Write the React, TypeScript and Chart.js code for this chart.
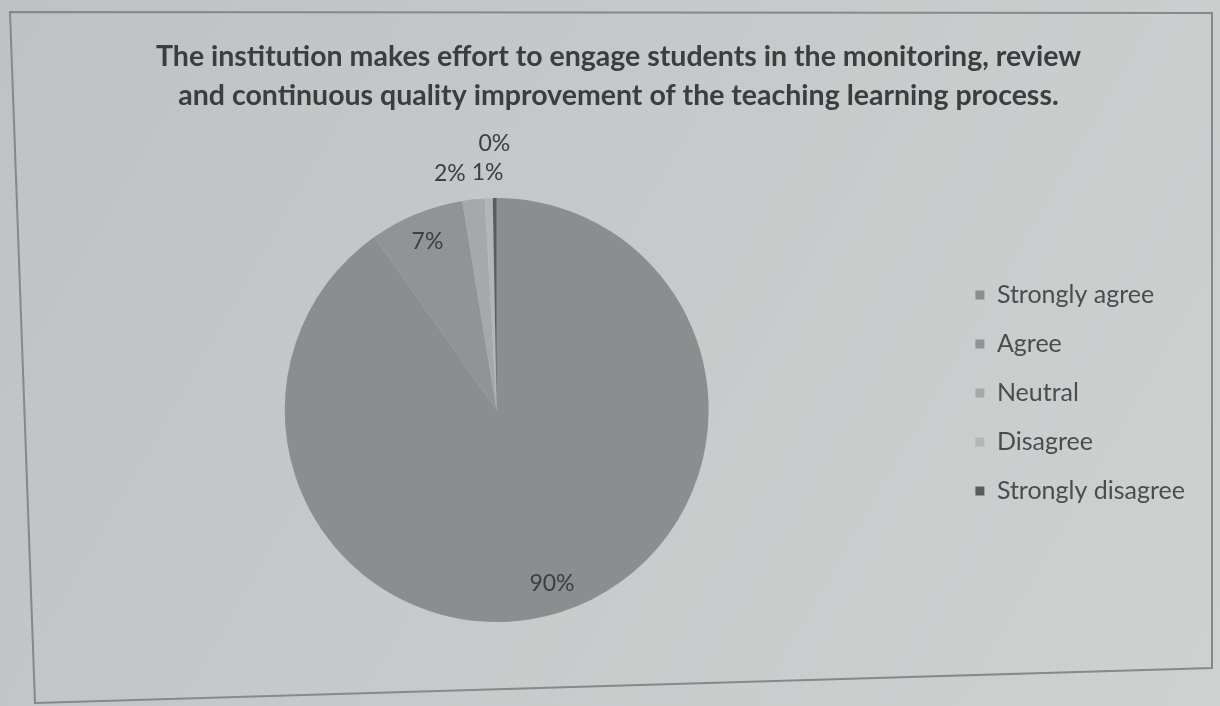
import React, { useEffect, useRef } from "react";
import { Chart, registerables } from "chart.js";

Chart.register(...registerables);

const titleLines = [
  "The institution makes effort to engage students in the monitoring, review",
  "and continuous quality improvement of the teaching learning process.",
];
const categories = ["Strongly agree", "Agree", "Neutral", "Disagree", "Strongly disagree"];
const shares = [90.2, 7.2, 1.7, 0.6, 0.3];
const sliceColors = ["#8b8e8f", "#919495", "#a6a9aa", "#b3b6b6", "#5a5d5e"];

const FONT = "Lato, 'Open Sans', sans-serif";

const backdropPlugin = {
  id: "backdrop",
  beforeDraw(chart: any) {
    const { ctx, width, height } = chart;
    ctx.save();
    const g = ctx.createLinearGradient(0, 0, width, height);
    g.addColorStop(0, "#bfc1c2");
    g.addColorStop(0.5, "#c7c9ca");
    g.addColorStop(1, "#cfd1d1");
    ctx.fillStyle = g;
    ctx.fillRect(0, 0, width, height);
    ctx.strokeStyle = "#868889";
    ctx.lineWidth = 2;
    ctx.beginPath();
    ctx.moveTo(10, 12);
    ctx.lineTo(1212, 13);
    ctx.lineTo(1212, 668);
    ctx.lineTo(35, 703);
    ctx.closePath();
    ctx.stroke();
    ctx.restore();
  },
};

const labelPlugin = {
  id: "sliceLabels",
  afterDatasetsDraw(chart: any) {
    const { ctx } = chart;
    const meta = chart.getDatasetMeta(0);
    const total = shares.reduce((a, b) => a + b, 0);
    const size = 23;
    ctx.save();
    ctx.font = `${size}px ${FONT}`;
    const boxes: any[] = [];
    meta.data.forEach((arc: any, i: number) => {
      const p = arc.getProps(["x", "y", "startAngle", "endAngle", "outerRadius"], true);
      const frac = shares[i] / total;
      const text = Math.round(frac * 100) + "%";
      const w = ctx.measureText(text).width;
      const h = size;
      const mid = (p.startAngle + p.endAngle) / 2;
      const ux = Math.cos(mid);
      const uy = Math.sin(mid);
      let cx: number;
      let cy: number;
      const inside = frac >= 0.05;
      if (inside) {
        const d = p.outerRadius * 0.86;
        cx = p.x + ux * d;
        cy = p.y + uy * d;
      } else {
        const d = p.outerRadius + 14;
        cx = p.x + ux * d + (ux * w) / 2;
        cy = p.y + uy * d + (uy * h) / 2;
        for (const b of boxes) {
          if (b.inside) continue;
          const needX = (w + b.w) / 2 + 6;
          const dx = Math.abs(cx - b.cx);
          if (dx < needX && Math.abs(cy - b.cy) < (h + b.h) / 2) {
            const over = needX - dx;
            if (!b.shifted && over < w * 0.75) {
              const s = cx >= b.cx ? 1 : -1;
              b.cx -= s * over;
              b.shifted = true;
            } else {
              cy = b.cy - (h + 6);
            }
          }
        }
      }
      boxes.push({ text, cx, cy, w, h, inside, shifted: false });
    });
    ctx.fillStyle = "#3c3e3f";
    ctx.textAlign = "center";
    ctx.textBaseline = "middle";
    for (const b of boxes) ctx.fillText(b.text, b.cx, b.cy);
    ctx.restore();
  },
};

export default function App() {
  const ref = useRef<HTMLCanvasElement | null>(null);
  useEffect(() => {
    if (!ref.current) return;
    const chart = new Chart(ref.current, {
      type: "pie",
      data: {
        labels: categories,
        datasets: [
          {
            data: shares,
            backgroundColor: sliceColors,
            borderWidth: 0,
          },
        ],
      },
      options: {
        responsive: false,
        animation: false,
        devicePixelRatio: 1,
        layout: { padding: { top: 10, bottom: 84, left: 42, right: 25 } },
        plugins: {
          tooltip: { enabled: false },
          title: {
            display: true,
            text: titleLines,
            color: "#3b3d3e",
            font: { family: FONT, size: 28.5, weight: "bold", lineHeight: 1.37 },
            padding: { top: 27.5, bottom: 82.5 },
          },
          legend: {
            position: "right",
            align: "start",
            fullSize: false,
            title: { display: true, text: " ", font: { size: 10, lineHeight: 1.2 }, padding: 24.25 },
            labels: {
              color: "#4a4c4d",
              font: { family: FONT, size: 25 },
              boxWidth: 9,
              boxHeight: 9,
              padding: 24,
            },
          },
        },
      },
      plugins: [backdropPlugin, labelPlugin],
    });
    return () => chart.destroy();
  }, []);
  return (
    <div style={{ position: "fixed", left: 0, top: 0, width: 1220, height: 706, background: "#c7c9ca" }}>
      <canvas ref={ref} width={1220} height={706} style={{ display: "block" }} />
    </div>
  );
}
